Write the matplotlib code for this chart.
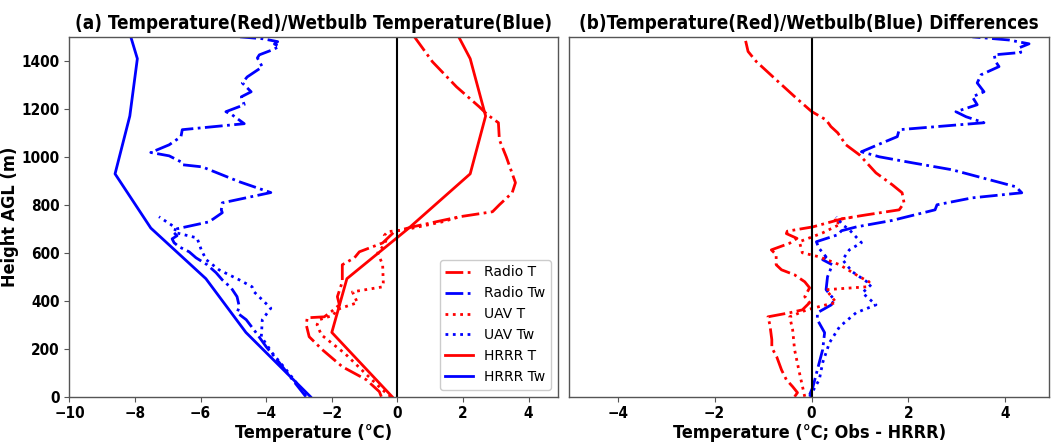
import matplotlib
matplotlib.use("Agg")
import matplotlib.pyplot as plt

plt.rcParams["font.family"] = ["DejaVu Sans"]
plt.rcParams["font.stretch"] = "condensed"

# HRRR model levels
hrrr_h = [0, 268, 492, 703, 929, 1170, 1409, 1500]
hrrr_t = [-0.16, -2.0, -1.54, 0.35, 2.22, 2.69, 2.22, 1.87]
hrrr_tw = [-2.65, -4.62, -5.84, -7.52, -8.61, -8.16, -7.93, -8.13]

# radiosonde
radio_t_h = [0, 21, 71, 125, 196, 250, 300, 329, 333, 354, 383, 417, 479, 550,
             579, 604, 641, 688, 708, 750, 771, 800, 850, 892, 1000, 1071,
             1142, 1175, 1208, 1292, 1396, 1500]
radio_t = [-0.49, -0.55, -0.95, -1.68, -2.29, -2.69, -2.78, -2.75, -2.23, -2.02,
           -1.77, -1.83, -1.68, -1.68, -1.31, -1.16, -0.45, -0.09, 0.46, 1.89,
           2.9, 3.11, 3.5, 3.6, 3.32, 3.11, 3.08, 2.75, 2.5, 1.8, 1.07, 0.52]

radio_tw_h = [0, 71, 142, 208, 267, 321, 350, 375, 417, 454, 487, 517, 550, 579,
              604, 625, 642, 658, 671, 683, 700, 729, 767, 779, 808, 851, 896,
              958, 967, 979, 1004, 1018, 1050, 1084, 1113, 1138, 1175, 1188,
              1217, 1250, 1271, 1308, 1333, 1375, 1412, 1425, 1446, 1460, 1470,
              1480, 1492, 1500]
radio_tw = [-2.79, -3.2, -3.6, -4.0, -4.31, -4.61, -4.89, -4.82, -4.89, -5.07,
            -5.34, -5.53, -5.8, -6.14, -6.35, -6.66, -6.81, -6.87, -6.72, -6.81,
            -6.72, -5.74, -5.34, -5.37, -5.34, -3.86, -4.82, -5.95, -6.56, -6.6,
            -6.96, -7.52, -6.96, -6.6, -6.56, -4.67, -5.04, -5.23, -4.67, -4.76,
            -4.46, -4.73, -4.58, -4.12, -4.27, -4.21, -3.81, -3.6, -3.75, -3.65,
            -4.1, -4.8]

# UAV
uav_t_h = [0, 29, 100, 180, 258, 300, 321, 340, 362, 371, 392, 437, 458, 475,
           550, 600, 625, 650, 672, 688, 695, 729, 750]
uav_t = [-0.2, -0.46, -1.0, -1.6, -2.32, -2.45, -2.38, -1.95, -1.86, -1.68,
         -1.22, -1.37, -0.45, -0.43, -0.45, -0.6, -0.45, -0.35, -0.4, -0.3,
         0.2, 1.37, 1.9]

uav_tw_h = [8, 42, 112, 183, 250, 321, 369, 437, 458, 487, 529, 571, 612, 662,
            685, 704, 750]
uav_tw = [-2.78, -2.99, -3.39, -3.82, -4.15, -4.12, -3.86, -4.37, -4.43, -4.82,
          -5.44, -5.83, -5.98, -6.11, -6.8, -6.76, -7.27]

# differences (obs - HRRR)
d_radio_t_h = [0, 17, 42, 71, 112, 167, 204, 238, 300, 333, 350, 362, 392, 417,
               454, 479, 508, 529, 550, 592, 612, 640, 660, 680, 690, 708, 742,
               758, 779, 808, 850, 883, 933, 1008, 1050, 1100, 1126, 1154, 1189,
               1251, 1321, 1397, 1439, 1500]
d_radio_t = [-0.35, -0.29, -0.39, -0.52, -0.62, -0.72, -0.82, -0.82, -0.86, -0.9,
             -0.45, -0.19, -0.04, -0.14, -0.04, -0.14, -0.35, -0.62, -0.73, -0.73,
             -0.83, -0.45, -0.3, -0.52, -0.5, 0.03, 0.64, 1.13, 1.81, 1.91, 1.87,
             1.67, 1.33, 0.99, 0.71, 0.54, 0.4, 0.3, 0.0, -0.35, -0.73, -1.14,
             -1.31, -1.38]

d_radio_tw_h = [8, 42, 112, 196, 267, 321, 350, 383, 404, 446, 500, 550, 571, 583,
                620, 646, 675, 692, 708, 735, 779, 800, 829, 850, 875, 946, 975,
                1000, 1021, 1058, 1084, 1113, 1142, 1167, 1188, 1217, 1250, 1271,
                1308, 1342, 1376, 1397, 1425, 1435, 1454, 1471, 1487, 1500]
d_radio_tw = [-0.04, 0.03, 0.12, 0.23, 0.27, 0.12, 0.12, 0.41, 0.47, 0.3, 0.33,
              0.43, 0.23, 0.3, 0.15, 0.1, 0.54, 0.62, 0.93, 1.67, 2.55, 2.59,
              3.32, 4.34, 4.22, 2.9, 2.08, 1.4, 1.03, 1.46, 1.77, 1.81, 3.56,
              3.19, 2.98, 3.42, 3.32, 3.56, 3.42, 3.5, 3.87, 3.8, 3.77, 4.32,
              4.28, 4.49, 4.07, 3.32]

d_uav_t_h = [0, 100, 196, 279, 333, 362, 383, 392, 446, 458, 479, 500, 550, 583,
             600, 646, 683, 720, 735, 750]
d_uav_t = [-0.14, -0.25, -0.35, -0.39, -0.45, -0.1, 0.3, 0.51, 0.3, 1.13, 1.19,
           0.99, 0.58, 0.16, -0.19, -0.25, 0.23, 0.6, 0.45, 0.9]

d_uav_tw_h = [0, 71, 142, 225, 292, 350, 383, 433, 467, 521, 571, 612, 642, 696,
              717, 750]
d_uav_tw = [-0.04, 0.16, 0.23, 0.37, 0.58, 0.92, 1.33, 1.05, 1.23, 0.84, 0.64,
            0.78, 1.03, 0.78, 0.64, 0.51]

lw = 2.0
fig = plt.figure(figsize=(10.51, 4.44), dpi=100)
ax1 = fig.add_axes([0.0661, 0.1065, 0.4649, 0.8105])
ax2 = fig.add_axes([0.5417, 0.1065, 0.4563, 0.8105])

# panel a: profiles
ax1.plot(radio_t, radio_t_h, color="red", ls="-.", lw=lw, label="Radio T")
ax1.plot(radio_tw, radio_tw_h, color="blue", ls="-.", lw=lw, label="Radio Tw")
ax1.plot(uav_t, uav_t_h, color="red", ls=":", lw=lw, label="UAV T")
ax1.plot(uav_tw, uav_tw_h, color="blue", ls=":", lw=lw, label="UAV Tw")
ax1.plot(hrrr_t, hrrr_h, color="red", ls="-", lw=lw, label="HRRR T")
ax1.plot(hrrr_tw, hrrr_h, color="blue", ls="-", lw=lw, label="HRRR Tw")
ax1.axvline(0, color="k", lw=1.5)

# panel b: obs minus model
ax2.plot(d_radio_t, d_radio_t_h, color="red", ls="-.", lw=lw)
ax2.plot(d_radio_tw, d_radio_tw_h, color="blue", ls="-.", lw=lw)
ax2.plot(d_uav_t, d_uav_t_h, color="red", ls=":", lw=lw)
ax2.plot(d_uav_tw, d_uav_tw_h, color="blue", ls=":", lw=lw)
ax2.axvline(0, color="k", lw=1.5)

ax1.set_xlim(-10, 4.9)
ax2.set_xlim(-5, 4.9)
ax1.set_xticks([-10, -8, -6, -4, -2, 0, 2, 4])
ax1.set_yticks([0, 200, 400, 600, 800, 1000, 1200, 1400])
ax2.set_xticks([-4, -2, 0, 2, 4])
ax2.tick_params(left=False, labelleft=False)
for ax in (ax1, ax2):
    ax.set_ylim(0, 1500)
    for sp in ax.spines.values():
        sp.set_color("#555555")
        sp.set_linewidth(1.0)
    ax.tick_params(labelsize=11, color="#555555")
for lab in ax1.get_xticklabels() + ax1.get_yticklabels() + ax2.get_xticklabels():
    lab.set_fontweight("bold")

ax1.set_xlabel("Temperature (°C)", fontsize=13, fontweight="bold", labelpad=2)
ax1.set_ylabel("Height AGL (m)", fontsize=13, fontweight="bold", labelpad=2)
ax2.set_xlabel("Temperature (°C; Obs - HRRR)", fontsize=13, fontweight="bold", labelpad=2)
ax1.set_title("(a) Temperature(Red)/Wetbulb Temperature(Blue)", fontsize=13.5,
              fontweight="bold", pad=6)
ax2.set_title("(b)Temperature(Red)/Wetbulb(Blue) Differences", fontsize=13.5,
              fontweight="bold", pad=6)

ax1.legend(loc="lower right", framealpha=1.0, edgecolor="#cccccc",
           prop={"size": 10, "stretch": "normal"})

fig.savefig("out.png", dpi=100)
